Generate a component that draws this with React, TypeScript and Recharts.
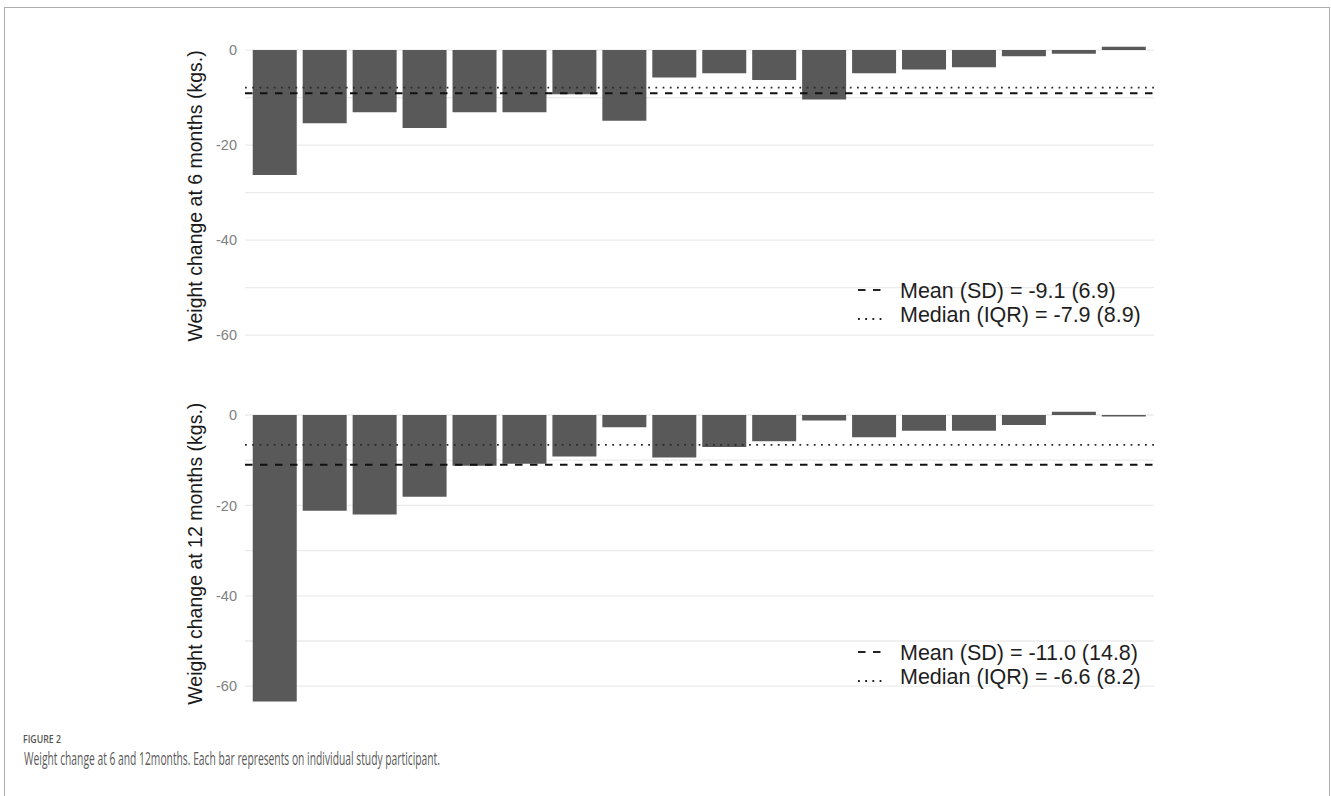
import React from 'react';
import { BarChart, Bar, XAxis, YAxis, CartesianGrid, ReferenceLine } from 'recharts';

// one bar per study participant, ordered as in the figure
const PARTICIPANTS = [
  'P1', 'P2', 'P3', 'P4', 'P5', 'P6', 'P7', 'P8', 'P9',
  'P10', 'P11', 'P12', 'P13', 'P14', 'P15', 'P16', 'P17', 'P18',
];
const CHANGE_6M = [
  -26.3, -15.4, -13.1, -16.4, -13.1, -13.1, -9.3, -14.9, -5.8,
  -4.9, -6.3, -10.4, -4.9, -4.1, -3.6, -1.3, -0.8, 0.7,
];
const CHANGE_12M = [
  -63.4, -21.2, -22.0, -18.1, -11.2, -10.8, -9.2, -2.7, -9.4,
  -7.1, -5.8, -1.2, -4.9, -3.5, -3.5, -2.2, 0.7, -0.3,
];

const MEAN_6M = -9.1;
const SD_6M = 6.9;
const MEDIAN_6M = -7.9;
const IQR_6M = 8.9;

const MEAN_12M = -11.0;
const SD_12M = 14.8;
const MEDIAN_12M = -6.6;
const IQR_12M = 8.2;

const Y_TICKS = [-60, -50, -40, -30, -20, -10, 0];
const Y_DOMAIN = [-66.6, 3.9];

const BAR_COLOR = '#595959';
const FONT = '"Liberation Sans", Arial, sans-serif';
const MEAN_DASH = '7.5 7.5';
const MEDIAN_DASH = '1.8 5.4';

const AxisTitle = (props: any) => {
  const { viewBox, value } = props;
  const cx = viewBox.x + 17;
  const cy = viewBox.y + viewBox.height / 2 - 3;
  return (
    <text
      x={cx}
      y={cy}
      transform={`rotate(-90 ${cx} ${cy})`}
      textAnchor="middle"
      fontSize={19.5}
      fill="#1a1a1a"
      fontFamily={FONT}
    >
      {value}
    </text>
  );
};

interface PanelProps {
  values: number[];
  mean: number;
  median: number;
  title: string;
  top: number;
  height: number;
  margin: { top: number; right: number; bottom: number; left: number };
}

const Panel: React.FC<PanelProps> = ({ values, mean, median, title, top, height, margin }) => {
  const data = PARTICIPANTS.map((id, i) => ({ id, change: values[i] }));
  const plotTop = margin.top;
  const plotBottom = height - margin.bottom;

  // skip the lines recharts adds at the padded domain edges
  const gridLine = (p: any) => {
    if (Math.abs(p.y1 - plotTop) < 1 || Math.abs(p.y1 - plotBottom) < 1) return <g key={p.key} />;
    return <line key={p.key} x1={p.x1} x2={p.x2} y1={p.y1} y2={p.y2} stroke="#ebebeb" strokeWidth={1.3} />;
  };

  return (
    <div style={{ position: 'absolute', left: 0, top, width: 1331, height }}>
      <BarChart width={1331} height={height} data={data} margin={margin} barCategoryGap="5.5%">
        <CartesianGrid vertical={false} horizontal={gridLine} />
        <XAxis dataKey="id" hide padding={{ left: 5, right: 5 }} />
        <YAxis
          width={60}
          domain={Y_DOMAIN}
          allowDataOverflow
          ticks={Y_TICKS}
          interval={0}
          tickFormatter={(v: number) => (v % 20 === 0 ? String(v) : '')}
          axisLine={false}
          tickLine={false}
          tickSize={0}
          tickMargin={8}
          tick={{ fill: '#808080', fontSize: 14.5, fontFamily: FONT }}
          label={{ value: title, content: AxisTitle }}
        />
        <Bar dataKey="change" fill={BAR_COLOR} isAnimationActive={false} />
        <ReferenceLine y={median} stroke="#2b2b2b" strokeWidth={1.8} strokeDasharray={MEDIAN_DASH} />
        <ReferenceLine y={mean} stroke="#111" strokeWidth={2} strokeDasharray={MEAN_DASH} />
      </BarChart>
    </div>
  );
};

const StatLegend: React.FC<{ top: number; mean: number; sd: number; median: number; iqr: number }> = ({
  top, mean, sd, median, iqr,
}) => {
  const row = (dash: string, width: number, dy: number, text: string) => (
    <div style={{ display: 'flex', alignItems: 'center', height: 24 }}>
      <svg width={44} height={24} style={{ flex: 'none' }}>
        <line x1={2} x2={28} y1={12 + dy} y2={12 + dy} stroke="#222" strokeWidth={width} strokeDasharray={dash} />
      </svg>
      <span style={{ whiteSpace: 'nowrap' }}>{text}</span>
    </div>
  );
  return (
    <div
      style={{
        position: 'absolute',
        left: 856,
        top,
        fontFamily: FONT,
        fontSize: 21.5,
        color: '#1e1e1e',
        lineHeight: '24px',
      }}
    >
      {row(MEAN_DASH, 2.2, -1, `Mean (SD) = ${mean.toFixed(1)} (${sd.toFixed(1)})`)}
      {row(MEDIAN_DASH, 1.8, 4, `Median (IQR) = ${median.toFixed(1)} (${iqr.toFixed(1)})`)}
    </div>
  );
};

export default function App() {
  return (
    <div
      style={{
        position: 'relative',
        width: 1331,
        height: 796,
        overflow: 'hidden',
        background: '#fff',
      }}
    >
      <style>{'body{margin:0}'}</style>
      {/* figure frame */}
      <div
        style={{
          position: 'absolute',
          left: 4,
          top: 7,
          width: 1324,
          height: 820,
          border: '1.5px solid #adadad',
          borderBottom: 'none',
        }}
      />

      <Panel
        values={CHANGE_6M}
        mean={MEAN_6M}
        median={MEDIAN_6M}
        title="Weight change at 6 months (kgs.)"
        top={0}
        height={380}
        margin={{ top: 31.5, right: 177, bottom: 13.6, left: 185 }}
      />
      <Panel
        values={CHANGE_12M}
        mean={MEAN_12M}
        median={MEDIAN_12M}
        title="Weight change at 12 months (kgs.)"
        top={380}
        height={360}
        margin={{ top: 17.4, right: 177, bottom: 24, left: 185 }}
      />

      <StatLegend top={279} mean={MEAN_6M} sd={SD_6M} median={MEDIAN_6M} iqr={IQR_6M} />
      <StatLegend top={640.5} mean={MEAN_12M} sd={SD_12M} median={MEDIAN_12M} iqr={IQR_12M} />

      <svg
        width={1331}
        height={60}
        style={{ position: 'absolute', left: 0, top: 730 }}
      >
        <text x={23} y={12.5} fontSize={11.5} fill="#555" fontFamily='"Open Sans", sans-serif' fontWeight={600} textLength={38} lengthAdjust="spacingAndGlyphs">
          FIGURE 2
        </text>
        <text x={24} y={35} fontSize={17.5} fill="#5a5a5a" fontFamily='"Open Sans", sans-serif' textLength={416} lengthAdjust="spacingAndGlyphs">
          Weight change at 6 and 12months. Each bar represents on individual study participant.
        </text>
      </svg>
    </div>
  );
}
